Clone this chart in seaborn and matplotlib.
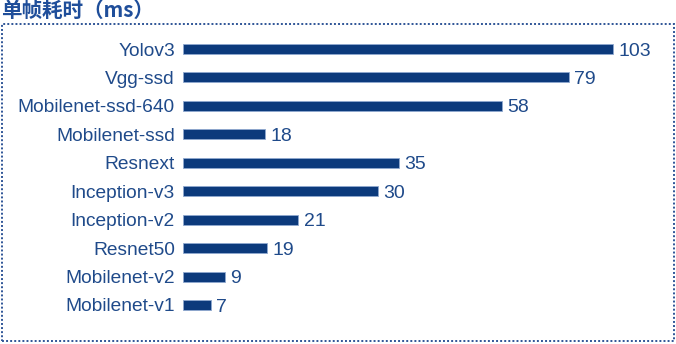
import matplotlib
matplotlib.use("Agg")
import matplotlib.pyplot as plt
import seaborn as sns
import pandas as pd
from matplotlib.patches import Rectangle

models = ["Yolov3", "Vgg-ssd", "Mobilenet-ssd-640", "Mobilenet-ssd", "Resnext",
          "Inception-v3", "Inception-v2", "Resnet50", "Mobilenet-v2", "Mobilenet-v1"]
# bar lengths as drawn in the picture (scaled so Yolov3 = 103)
bar_lengths = [103, 92.4, 76.3, 19.7, 51.7, 46.6, 27.6, 20.1, 10.0, 6.6]
# values printed next to the bars
value_labels = ["103", "79", "58", "18", "35", "30", "21", "19", "9", "7"]
title = "单帧耗时（ms）"

df = pd.DataFrame({"model": models, "time": bar_lengths})

sns.set_theme(style="white")
plt.rcParams["font.family"] = ["Liberation Sans", "Noto Sans CJK SC", "DejaVu Sans"]

W, H = 676, 344
fig = plt.figure(figsize=(W / 100, H / 100), dpi=100)
ax_left, ax_right = 183, 660
ax_top, ax_bottom = 34.8, 319.2
ax = fig.add_axes([ax_left / W, (H - ax_bottom) / H,
                   (ax_right - ax_left) / W, (ax_bottom - ax_top) / H])

bar_color = "#0C3A7C"
text_color = "#1F4A8A"

sns.barplot(data=df, y="model", x="time", orient="h", color=bar_color,
            width=0.35, edgecolor="#8FA8CF", linewidth=0.6, saturation=1, ax=ax)

ax.set_xlim(0, (ax_right - ax_left) / 4.175)
ax.set_ylim(9.5, -0.5)
ax.set_xlabel("")
ax.set_ylabel("")
ax.set_xticks([])
for s in ax.spines.values():
    s.set_visible(False)
ax.tick_params(axis="y", length=0, pad=5.8, labelsize=13.8, labelcolor=text_color)

anns = ax.bar_label(ax.containers[0], labels=value_labels, padding=4,
                    fontsize=14.0, color=text_color)
for a in anns:
    a.xyann = (4, -1.5)

# dotted frame
fig.patches.append(Rectangle((2 / W, 3 / H), 672 / W, 317 / H,
                             transform=fig.transFigure, fill=False,
                             edgecolor="#2F5597", linewidth=1.4,
                             linestyle=(0, (1, 1.1))))

fig.text(1 / W, 1 - 0 / H, title, ha="left", va="top", fontsize=14.8,
         fontweight="bold", color="#1F4E9A",
         family=["Noto Sans CJK SC", "DejaVu Sans"])

fig.savefig("out.png", dpi=100, facecolor="white")
